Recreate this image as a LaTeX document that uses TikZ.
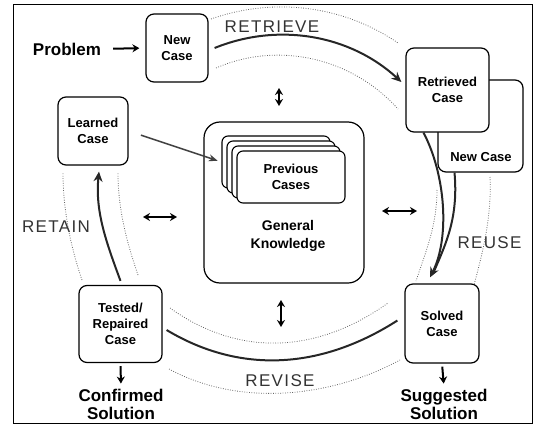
\documentclass[tikz,border=0pt]{standalone}
\usepackage{fontspec}
\setmainfont{Liberation Sans}
\newfontfamily\phasefont[LetterSpace=8]{Liberation Sans}
\usetikzlibrary{arrows.meta}
\begin{document}
\begin{tikzpicture}[x=1pt,y=-1pt,
 box/.style={draw, line width=1.2pt, rounded corners=8pt, align=center, font=\bfseries\fontsize{13}{16}\selectfont, inner sep=0pt, fill=white},
 card/.style={draw, line width=1.1pt, rounded corners=6pt, fill=white, minimum width=108pt, minimum height=52pt, inner sep=0pt, align=center, font=\bfseries\fontsize{13}{16}\selectfont},
 lbl/.style={font=\bfseries\fontsize{17}{18}\selectfont, align=center, inner sep=1pt},
 phase/.style={font=\phasefont\fontsize{17}{17}\selectfont, text=black!80, inner sep=0pt},
 cyc/.style={line width=2pt, black!85},
 cycarr/.style={cyc, -{Stealth[length=10pt,width=9pt]}},
 band/.style={dash pattern=on 0.8pt off 1.6pt, line width=0.8pt, black!60},
 dbl/.style={line width=2pt, {Stealth[length=7pt,width=8pt]}-{Stealth[length=7pt,width=8pt]}},
 blk/.style={line width=2pt, -{Stealth[length=7pt,width=8pt]}},
]
\useasboundingbox (0,0) rectangle (534,425);
\draw[line width=1pt] (13,5) rectangle (532,423);

% nodes
\node[box, minimum width=62pt, minimum height=68pt] (new) at (177,48) {New\\Case};
\node[box, minimum width=85pt, minimum height=92pt] (retnew) at (480.5,126) {};
\node[box, minimum width=83pt, minimum height=84pt] (ret) at (447.5,90) {Retrieved\\Case};
\node[font=\bfseries\fontsize{13}{16}\selectfont] (retnewlbl) at (481,157) {New Case};
\node[box, minimum width=70pt, minimum height=68pt] (learned) at (93,131) {Learned\\Case};
\node[box, rounded corners=16pt, minimum width=160pt, minimum height=161pt] (gk) at (284,202.5) {};
\node[card] (cardD) at (276,162) {};
\node[card] (cardC) at (281,167) {};
\node[card] (cardB) at (286,172) {};
\node[card] (cardA) at (291,177) {Previous\\Cases};
\node[font=\bfseries\fontsize{14}{18}\selectfont, align=center] (gktext) at (288,236) {General\\Knowledge};
\node[box, minimum width=83pt, minimum height=77pt] (tested) at (120.5,324) {Tested/\\Repaired\\Case};
\node[box, minimum width=74pt, minimum height=79pt] (solved) at (442,323.5) {Solved\\Case};

\node[lbl] (problem) at (67,49) {Problem};
\node[lbl] (confirmed) at (121,404) {Confirmed\\Solution};
\node[lbl] (suggested) at (444,404) {Suggested\\Solution};

\node[phase] (retrieve) at (272,27) {RETRIEVE};
\node[phase] (reuse) at (489.5,243) {REUSE};
\node[phase] (revise) at (280,381) {REVISE};
\node[phase] (retain) at (56,227) {RETAIN};

% simple arrows
\draw[blk, shorten <=11pt, shorten >=6pt] (problem.east) -- (new.west);
\draw[blk, shorten <=3pt, shorten >=4pt] (tested.south) -- (confirmed.north);
\draw[blk, shorten <=3pt, shorten >=4pt] (solved.south) -- (suggested.north);

\coordinate (t1) at (279,88);  \coordinate (t2) at (279,106);
\coordinate (b1) at (281,300); \coordinate (b2) at (281,327);
\coordinate (l1) at (143,217); \coordinate (l2) at (177,217);
\coordinate (r1) at (382,211); \coordinate (r2) at (417,211);
\draw[dbl] (t1) -- (t2);
\draw[dbl] (b1) -- (b2);
\draw[dbl] (l1) -- (l2);
\draw[dbl] (r1) -- (r2);

\draw[line width=1.5pt, black!75, -{Stealth[length=9pt,width=7pt]}, shorten <=13pt, shorten >=4pt] (learned.east) -- (cardD.west);

% dotted bands
\draw[band] (211,19) .. controls +(62.8,-22.1) and +(-55,-37.7) .. (398,43);
\draw[band] (216,68) .. controls +(62.8,-27.3) and +(-45.8,-51) .. (398,109);
\draw[band] (437,190) .. controls +(0,35) and +(10,-30) .. (416,281);
\draw[band] (490,177) .. controls +(2,40) and +(8,-30) .. (474,285);
\draw[band] (170,308) .. controls +(70,50) and +(-70,50) .. (388,303);
\draw[band] (169,369) .. controls +(70,38) and +(-70,38) .. (400,360);
\draw[band] (82,280) .. controls +(-12,-35) and +(0,35) .. (63,173);
\draw[band] (138,275) .. controls +(-12,-35) and +(0,35) .. (118,173);

% cycle arcs
\draw[cycarr] ([xshift=6pt]new.east) .. controls +(64,-26) and +(-51,-47) .. ([xshift=-4pt,yshift=8pt]ret.west);
\draw[cycarr] ([xshift=-24pt]ret.south) .. controls +(22,42) and +(20,-40) .. ([xshift=-12pt,yshift=6pt]solved.north);
\draw[cyc] ([xshift=-26pt]retnew.south) .. controls +(4,45) and +(12,-28) .. ([xshift=-8pt,yshift=12pt]solved.north);
\draw[cyc] ([xshift=4pt,yshift=-6pt]tested.east) .. controls +(75,45) and +(-75,48) .. ([xshift=-7pt,yshift=3pt]solved.west);
\draw[cycarr] ([yshift=4pt]tested.north) .. controls +(-14,-38) and +(-4,40) .. ([xshift=6pt,yshift=-6pt]learned.south);
\end{tikzpicture}
\end{document}
